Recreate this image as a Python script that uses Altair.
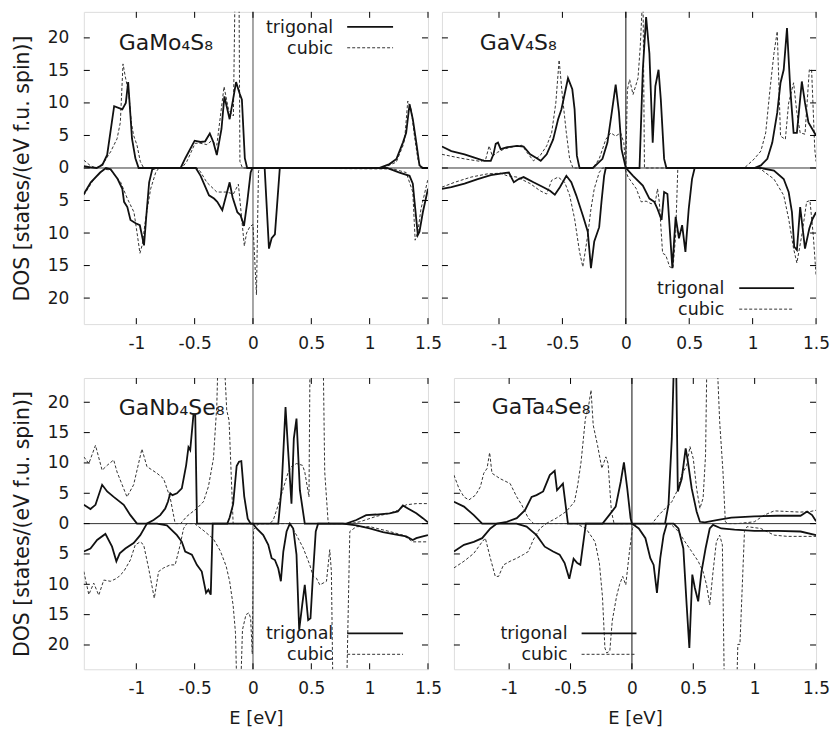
import altair as alt
import pandas as pd

FONT = "DejaVu Sans"
X_DOMAIN = [-1.45, 1.5]
Y_DOMAIN = [-24, 24]
X_TICKS = [-1, -0.5, 0, 0.5, 1, 1.5]
Y_TICKS = [-20, -15, -10, -5, 0, 5, 10, 15, 20]

# ---------------- GaMo4S8 ----------------
MO_TRI_UP = [(-1.45,0.3),(-1.39,0.1),(-1.34,0.0),(-1.29,0.5),(-1.25,2.0),(-1.21,7.0),(-1.19,9.5),(-1.12,9.0),(-1.09,10.0),(-1.07,13.2),(-1.05,8.0),(-1.037,4.5),(-1.008,1.5),(-0.98,0),(-0.62,0),(-0.58,1.5),(-0.50,4.2),(-0.45,4.0),(-0.41,4.1),(-0.37,5.3),(-0.34,4.0),(-0.31,2.0),(-0.27,6.0),(-0.245,11.0),(-0.20,7.5),(-0.145,13.2),(-0.115,11.5),(-0.095,10.5),(-0.07,1.5),(-0.05,0),(1.08,0),(1.17,0.6),(1.23,1.4),(1.285,3.9),(1.313,5.4),(1.342,9.8),(1.37,7.5),(1.40,3.9),(1.427,0.4),(1.456,0),(1.5,0)]
MO_TRI_DN = [(-1.45,-4.0),(-1.39,-2.2),(-1.31,-0.7),(-1.26,0),(-1.22,-0.2),(-1.16,-1.7),(-1.12,-3.2),(-1.105,-5.2),(-1.077,-6.0),(-1.05,-8.0),(-1.006,-8.5),(-0.97,-8.8),(-0.934,-11.9),(-0.914,-7.3),(-0.89,-2.2),(-0.863,-0.2),(-0.83,0),(-0.49,0),(-0.449,-1.2),(-0.377,-4.2),(-0.334,-4.7),(-0.306,-5.2),(-0.263,-6.5),(-0.2,-2.2),(-0.175,-4.5),(-0.134,-6.8),(-0.106,-7.3),(-0.077,-8.9),(-0.049,-5.2),(-0.02,-0.7),(-0.005,0),(0.10,0),(0.137,-12.4),(0.16,-10.8),(0.188,-10.2),(0.23,0),(1.15,0),(1.171,-0.15),(1.256,-0.7),(1.342,-1.2),(1.37,-2.4),(1.385,-5.2),(1.413,-10.3),(1.427,-9.8),(1.456,-6.8),(1.5,-3.2)]
MO_CUB_UP = [(-1.45,1.2),(-1.39,0.3),(-1.34,0),(-1.28,0.8),(-1.22,2.5),(-1.165,4.5),(-1.137,7.0),(-1.114,16.0),(-1.094,14.0),(-1.065,11.5),(-1.043,7.0),(-1.023,5.0),(-0.994,3.5),(-0.966,1.0),(-0.937,0),(-0.61,0),(-0.567,1.0),(-0.496,3.8),(-0.453,3.8),(-0.396,3.6),(-0.353,4.2),(-0.31,3.5),(-0.248,12.5),(-0.21,9.0),(-0.168,8.0),(-0.148,35),(-0.122,35),(-0.112,1.0),(-0.09,0),(1.114,0),(1.228,0.9),(1.285,3.4),(1.30,4.4),(1.327,10.3),(1.356,9.0),(1.384,4.9),(1.413,1.4),(1.44,0),(1.5,0)]
MO_CUB_DN = [(-1.45,-4.2),(-1.363,-1.7),(-1.277,-0.2),(-1.22,-0.3),(-1.134,-2.2),(-1.077,-4.7),(-1.02,-6.8),(-0.991,-10.3),(-0.969,-13.1),(-0.949,-11.8),(-0.92,-7.8),(-0.877,-3.2),(-0.834,-0.7),(-0.806,0),(-0.48,0),(-0.453,-0.5),(-0.396,-2.2),(-0.31,-3.7),(-0.225,-3.7),(-0.168,-4.0),(-0.125,-2.5),(-0.074,-12.0),(-0.055,-10.0),(-0.026,-9.0),(0.0,-8.7),(0.03,-19.5),(0.04,-8.0),(0.047,-0.5),(0.06,0),(1.2,-0.15),(1.313,-0.7),(1.37,-3.7),(1.39,-11.1),(1.413,-9.8),(1.44,-6.3),(1.47,-4.0),(1.5,-1.7)]

# ---------------- GaV4S8 ----------------
V_TRI_UP = [(-1.45,3.3),(-1.376,2.6),(-1.272,2.1),(-1.194,1.6),(-1.117,1.1),(-1.065,1.1),(-1.044,2.1),(-1.026,3.7),(-1.008,3.9),(-0.987,2.9),(-0.935,3.2),(-0.858,3.4),(-0.806,3.3),(-0.754,2.1),(-0.702,1.5),(-0.671,1.1),(-0.624,2.1),(-0.573,4.4),(-0.534,7.5),(-0.508,9.0),(-0.456,13.8),(-0.422,12.1),(-0.404,9.0),(-0.386,1.9),(-0.365,0),(-0.26,0),(-0.184,1.4),(-0.145,3.9),(-0.111,8.5),(-0.08,12.8),(-0.054,8.5),(-0.034,2.9),(0.0,0),(0.108,0),(0.134,15.1),(0.16,23.2),(0.186,17.6),(0.212,3.9),(0.233,12.6),(0.258,15.1),(0.276,10.5),(0.302,1.4),(0.32,0),(1.013,0),(1.065,0.4),(1.116,1.4),(1.155,3.9),(1.194,8.5),(1.22,13.1),(1.245,15.1),(1.271,21.5),(1.297,12.1),(1.323,5.4),(1.349,5.4),(1.388,13.3),(1.413,10.0),(1.44,7.0),(1.5,5.0)]
V_TRI_DN = [(-1.45,-3.2),(-1.376,-2.95),(-1.272,-2.4),(-1.168,-1.7),(-1.065,-1.1),(-0.961,-0.8),(-0.922,-0.7),(-0.883,-2.2),(-0.845,-1.7),(-0.806,-1.4),(-0.728,-2.2),(-0.65,-2.95),(-0.598,-3.5),(-0.56,-4.1),(-0.52,-2.95),(-0.469,-1.2),(-0.43,-2.2),(-0.391,-4.2),(-0.339,-7.3),(-0.30,-9.8),(-0.275,-15.4),(-0.249,-11.3),(-0.21,-9.1),(-0.192,-5.2),(-0.171,-1.2),(-0.158,0),(0.0,0),(0.057,-1.2),(0.134,-2.7),(0.186,-4.7),(0.225,-5.2),(0.25,-6.3),(0.282,-8.0),(0.302,-3.7),(0.328,-4.0),(0.367,-15.4),(0.393,-7.5),(0.419,-10.8),(0.444,-8.8),(0.47,-12.9),(0.496,-6.3),(0.522,-1.7),(0.543,0),(1.065,0),(1.168,-0.4),(1.245,-1.7),(1.284,-3.7),(1.31,-6.8),(1.328,-12.1),(1.349,-12.6),(1.375,-6.0),(1.413,-12.4),(1.447,-9.3),(1.473,-7.8),(1.5,-6.8)]
V_CUB_UP = [(-1.45,2.1),(-1.376,1.8),(-1.272,1.4),(-1.142,1.0),(-1.104,1.4),(-1.078,3.4),(-1.052,1.8),(-1.013,2.4),(-0.961,2.9),(-0.883,3.3),(-0.819,3.5),(-0.78,2.4),(-0.728,1.1),(-0.676,1.9),(-0.624,3.4),(-0.585,5.4),(-0.552,10.0),(-0.526,16.6),(-0.50,11.0),(-0.469,5.4),(-0.443,1.4),(-0.417,0),(-0.26,0),(-0.21,1.4),(-0.158,4.4),(-0.119,5.4),(-0.08,4.9),(-0.041,5.4),(-0.016,3.9),(0.0,0),(0.012,12.0),(0.03,13.6),(0.057,11.3),(0.096,13.8),(0.114,18.7),(0.127,24.0),(0.134,30),(0.147,0),(0.935,0),(1.013,1.4),(1.065,2.6),(1.103,5.4),(1.137,12.1),(1.168,17.6),(1.194,21.0),(1.22,4.9),(1.258,4.4),(1.284,10.0),(1.323,13.1),(1.349,8.5),(1.375,5.4),(1.413,5.2),(1.447,15.1),(1.465,15.1),(1.49,2.9),(1.5,1.0)]
V_CUB_DN = [(-1.45,-2.95),(-1.35,-2.2),(-1.22,-1.4),(-1.09,-0.9),(-0.987,-0.8),(-0.935,-1.2),(-0.858,-1.4),(-0.754,-2.4),(-0.676,-3.5),(-0.624,-4.0),(-0.585,-1.9),(-0.534,-1.4),(-0.482,-2.2),(-0.443,-4.2),(-0.404,-7.8),(-0.365,-12.9),(-0.339,-15.2),(-0.30,-10.3),(-0.275,-6.3),(-0.249,-3.2),(-0.21,-0.7),(-0.184,0),(-0.01,0),(0.018,-1.4),(0.083,-3.2),(0.121,-5.2),(0.16,-5.1),(0.20,-5.5),(0.233,-5.2),(0.25,-3.2),(0.264,-5.2),(0.29,-13.1),(0.315,-13.4),(0.346,-15.2),(0.372,-15.4),(0.393,-10.3),(0.41,0),(1.04,0),(1.065,-0.2),(1.168,-1.7),(1.245,-4.2),(1.284,-7.8),(1.323,-12.4),(1.349,-14.6),(1.388,-10.3),(1.426,-5.2),(1.452,-5.0),(1.478,-10.3),(1.5,-16.4)]

# ---------------- GaNb4Se8 ----------------
NB_TRI_UP = [(-1.45,3.1),(-1.393,2.4),(-1.35,3.1),(-1.293,6.4),(-1.25,5.3),(-1.194,4.4),(-1.108,3.1),(-1.051,1.4),(-0.994,0),(-0.909,0),(-0.852,0.6),(-0.795,1.4),(-0.752,2.5),(-0.729,3.6),(-0.709,5.0),(-0.69,4.7),(-0.652,5.0),(-0.61,5.8),(-0.573,9.6),(-0.553,12.6),(-0.538,12.1),(-0.51,18.0),(-0.495,18.0),(-0.48,0),(-0.22,0),(-0.2,1.0),(-0.17,3.2),(-0.14,9.5),(-0.12,10.2),(-0.1,10.3),(-0.075,4.5),(-0.045,0.8),(-0.02,0),(0.217,0),(0.245,5.8),(0.279,19.2),(0.302,11.8),(0.33,3.3),(0.35,14.0),(0.373,17.3),(0.402,5.5),(0.444,0),(0.80,0),(0.886,0.6),(0.97,1.4),(1.057,1.5),(1.171,1.7),(1.242,2.0),(1.285,3.0),(1.328,2.5),(1.40,1.7),(1.456,0.9),(1.5,0.2)]
NB_TRI_DN = [(-1.45,-4.6),(-1.393,-4.1),(-1.336,-2.7),(-1.265,-1.7),(-1.208,-3.8),(-1.171,-6.2),(-1.142,-4.9),(-1.094,-4.1),(-1.023,-3.2),(-0.966,-1.9),(-0.909,0),(-0.823,0),(-0.738,-0.3),(-0.652,-1.9),(-0.61,-3.0),(-0.581,-4.6),(-0.524,-5.1),(-0.481,-6.8),(-0.439,-7.9),(-0.402,-11.4),(-0.382,-10.9),(-0.362,-11.7),(-0.345,0),(0.0,0),(0.031,-0.8),(0.088,-1.9),(0.131,-3.5),(0.16,-5.7),(0.188,-6.0),(0.217,-7.4),(0.239,-9.5),(0.26,-4.6),(0.288,-1.3),(0.316,0),(0.345,-0.8),(0.373,-5.1),(0.396,-17.5),(0.422,-13.4),(0.444,-10.1),(0.473,-15.9),(0.493,-15.6),(0.516,-7.9),(0.538,-1.3),(0.558,0),(0.77,0),(0.886,-0.3),(1.0,-0.8),(1.114,-1.4),(1.228,-1.8),(1.313,-2.1),(1.37,-2.7),(1.40,-2.4),(1.456,-2.1),(1.5,-1.9)]
NB_CUB_UP = [(-1.45,11.0),(-1.407,9.9),(-1.35,12.9),(-1.293,8.8),(-1.25,9.6),(-1.194,10.5),(-1.165,8.5),(-1.08,4.4),(-1.023,6.4),(-0.952,12.3),(-0.909,9.4),(-0.823,8.3),(-0.766,7.4),(-0.709,4.2),(-0.667,0),(-0.62,0),(-0.567,1.2),(-0.481,2.5),(-0.425,3.6),(-0.382,6.1),(-0.339,10.7),(-0.31,19.5),(-0.296,30),(-0.254,30),(-0.225,18.7),(-0.205,17.0),(-0.17,0),(0.145,0),(0.174,0.6),(0.217,3.1),(0.26,5.8),(0.302,8.5),(0.33,9.4),(0.373,9.9),(0.425,9.6),(0.444,8.5),(0.48,4.4),(0.49,30),(0.60,30),(0.615,8.5),(0.644,0.3),(0.658,0),(0.83,0),(0.915,0.3),(1.057,1.2),(1.171,1.7),(1.242,2.2),(1.313,3.1),(1.40,3.3),(1.5,3.3)]
NB_CUB_DN = [(-1.45,-7.9),(-1.407,-11.7),(-1.365,-9.8),(-1.322,-11.8),(-1.279,-9.3),(-1.222,-9.5),(-1.165,-9.0),(-1.108,-7.9),(-1.051,-6.0),(-1.009,-3.5),(-0.966,-3.0),(-0.937,-3.5),(-0.895,-7.3),(-0.846,-12.3),(-0.809,-7.9),(-0.766,-7.3),(-0.709,-6.8),(-0.667,-6.8),(-0.624,-3.5),(-0.595,-0.8),(-0.567,0),(-0.50,0),(-0.42,-1.2),(-0.34,-2.5),(-0.28,-4.5),(-0.23,-7.0),(-0.20,-9.5),(-0.17,-13.5),(-0.15,-18.0),(-0.135,-30),(-0.11,-30),(-0.09,-17.5),(-0.06,-15.0),(-0.035,-14.7),(-0.02,-15.6),(-0.006,-21.5),(0.005,-1.0),(0.05,0),(0.316,0),(0.373,-1.9),(0.43,-4.0),(0.487,-6.8),(0.516,-8.7),(0.544,-9.0),(0.573,-10.1),(0.601,-9.8),(0.63,-9.5),(0.658,-4.3),(0.672,-7.9),(0.687,-30),(0.80,-30),(0.83,-1.3),(0.886,-0.5),(1.0,-0.5),(1.171,-1.3),(1.285,-1.9),(1.37,-3.0),(1.5,-3.0)]

# ---------------- GaTa4Se8 ----------------
TA_TRI_UP = [(-1.45,3.6),(-1.368,2.8),(-1.288,1.4),(-1.22,0),(-1.1,0),(-1.019,0.3),(-0.938,0.9),(-0.871,2.2),(-0.817,4.4),(-0.777,4.7),(-0.723,5.3),(-0.669,8.0),(-0.629,8.7),(-0.61,5.5),(-0.562,6.6),(-0.521,0),(-0.239,0),(-0.185,1.4),(-0.132,2.8),(-0.091,6.9),(-0.065,10.1),(-0.038,5.8),(-0.011,0.9),(0.0,0),(0.27,0),(0.298,3.1),(0.325,14.0),(0.347,30),(0.358,30),(0.374,5.3),(0.406,7.4),(0.438,12.4),(0.454,10.5),(0.487,5.8),(0.527,2.0),(0.554,0.3),(0.594,0.2),(0.702,0.6),(0.81,1.0),(0.997,1.2),(1.185,1.3),(1.374,1.3),(1.427,2.0),(1.468,1.4),(1.5,0.4)]
TA_TRI_DN = [(-1.45,-4.6),(-1.368,-3.5),(-1.288,-3.0),(-1.22,-2.4),(-1.153,-0.8),(-1.1,0),(-0.94,0),(-0.858,-0.5),(-0.777,-1.9),(-0.71,-3.8),(-0.642,-4.6),(-0.589,-5.1),(-0.548,-6.5),(-0.51,-9.1),(-0.475,-5.8),(-0.445,-6.5),(-0.42,-6.8),(-0.395,-3.0),(-0.375,0),(0.0,0),(0.056,-0.8),(0.11,-2.4),(0.15,-5.7),(0.177,-6.8),(0.204,-11.4),(0.231,-5.7),(0.258,-1.9),(0.285,0),(0.339,0),(0.379,-0.8),(0.419,-4.1),(0.446,-13.4),(0.468,-20.5),(0.492,-8.4),(0.513,-10.6),(0.54,-12.8),(0.567,-7.9),(0.60,-4.1),(0.634,-0.8),(0.661,-0.2),(0.728,-0.8),(0.836,-1.0),(0.997,-1.2),(1.185,-1.2),(1.374,-1.3),(1.5,-1.9)]
TA_CUB_UP = [(-1.45,8.0),(-1.409,5.8),(-1.368,4.4),(-1.328,3.9),(-1.274,4.7),(-1.234,6.1),(-1.207,8.3),(-1.18,9.1),(-1.159,11.7),(-1.14,8.3),(-1.073,7.4),(-0.992,6.6),(-0.938,4.4),(-0.898,3.1),(-0.844,0.9),(-0.80,0),(-0.70,0),(-0.616,0.9),(-0.535,2.0),(-0.468,3.6),(-0.441,6.4),(-0.414,10.2),(-0.379,17.3),(-0.352,19.5),(-0.333,22.0),(-0.315,16.2),(-0.28,12.9),(-0.245,9.1),(-0.212,11.0),(-0.194,9.9),(-0.167,2.0),(-0.145,0),(0.164,0),(0.218,1.4),(0.272,2.5),(0.325,3.6),(0.366,5.3),(0.406,8.0),(0.446,9.6),(0.473,12.7),(0.50,10.7),(0.527,5.8),(0.554,2.5),(0.58,4.2),(0.60,11.3),(0.613,30),(0.688,30),(0.715,16.8),(0.742,8.5),(0.761,0.3),(0.782,0),(0.86,0),(0.997,0.3),(1.078,1.4),(1.159,2.1),(1.266,2.0),(1.374,1.9),(1.454,2.0),(1.5,2.2)]
TA_CUB_DN = [(-1.45,-7.3),(-1.368,-6.2),(-1.288,-4.9),(-1.22,-3.0),(-1.194,-2.4),(-1.153,-5.7),(-1.113,-8.7),(-1.086,-8.7),(-1.046,-6.8),(-0.992,-6.2),(-0.938,-5.7),(-0.884,-5.1),(-0.844,-4.6),(-0.804,-2.7),(-0.75,-0.8),(-0.696,0),(-0.454,0),(-0.374,-0.8),(-0.30,-3.0),(-0.265,-6.5),(-0.24,-12.0),(-0.22,-20.5),(-0.205,-21.3),(-0.18,-21.0),(-0.16,-16.0),(-0.125,-12.0),(-0.10,-10.0),(-0.075,-8.7),(-0.05,-10.1),(-0.02,-4.6),(0.005,-0.8),(0.03,0),(0.312,0),(0.379,-1.3),(0.433,-3.0),(0.487,-4.6),(0.54,-6.2),(0.58,-7.9),(0.608,-10.1),(0.634,-13.4),(0.661,-7.9),(0.688,-3.0),(0.715,-1.9),(0.737,-3.5),(0.755,-30),(0.85,-30),(0.863,-19.9),(0.88,-19.9),(0.917,-1.3),(0.938,-0.5),(1.05,-0.8),(1.159,-1.9),(1.266,-2.1),(1.427,-2.1),(1.5,-2.1)]

NAMES = ["GaMo\u2084S\u2088", "GaV\u2084S\u2088", "GaNb\u2084Se\u2088", "GaTa\u2084Se\u2088"]
LEGEND_LABELS = ["trigonal", "cubic"]
Y_TITLE = "DOS [states/(eV f.u. spin)]"
X_TITLE = "E [eV]"


def frame(up, dn):
    rows = []
    for k, (e, d) in enumerate(up):
        rows.append({"E": e, "D": d, "spin": "up", "i": k})
    for k, (e, d) in enumerate(dn):
        rows.append({"E": e, "D": d, "spin": "down", "i": k})
    return pd.DataFrame(rows)


def panel(name, tri_up, tri_dn, cub_up, cub_dn, w, h, left, bottom, leg, name_pos, zero_col):
    x_axis = alt.Axis(values=X_TICKS, ticks=False, domain=False, grid=False,
                      labelExpr="'' + datum.value", labelFont=FONT, labelFontSize=17,
                      labelColor="#1a1a1a", labelPadding=11, labelFlush=False,
                      labelOverlap=False,
                      title=X_TITLE if bottom else None, titleFont=FONT,
                      titleFontSize=18, titleFontWeight="normal", titleColor="#1a1a1a",
                      titlePadding=13)
    X = alt.X("E:Q", scale=alt.Scale(domain=X_DOMAIN, nice=False, zero=False), axis=x_axis)
    if left:
        y_axis = alt.Axis(values=Y_TICKS, ticks=False, domain=False, grid=False,
                          labelExpr="'' + abs(datum.value)", labelFont=FONT,
                          labelFontSize=17, labelColor="#1a1a1a", labelPadding=15,
                          labelOverlap=False,
                          title=Y_TITLE, titleFont=FONT, titleFontSize=20.5,
                          titleFontWeight="normal", titleColor="#1a1a1a", titlePadding=15)
    else:
        y_axis = None
    Y = alt.Y("D:Q", scale=alt.Scale(domain=Y_DOMAIN, nice=False, zero=False), axis=y_axis)

    zero_h = alt.Chart(pd.DataFrame({"D": [0]})).mark_rule(color="#333", strokeWidth=1).encode(
        y=Y, x=alt.value(0), x2=alt.value(w))
    zero_v = alt.Chart(pd.DataFrame({"E": [0]})).mark_rule(color=zero_col, strokeWidth=1.3).encode(
        x=X, y=alt.value(0), y2=alt.value(h))

    cub = alt.Chart(frame(cub_up, cub_dn)).mark_line(
        clip=True, color="#333", strokeWidth=1, strokeDash=[3, 2]).encode(
        x=X, y=Y, detail="spin:N", order="i:Q")
    tri = alt.Chart(frame(tri_up, tri_dn)).mark_line(
        clip=True, color="#111", strokeWidth=1.8).encode(
        x=X, y=Y, detail="spin:N", order="i:Q")

    xt = pd.DataFrame({"E": X_TICKS})
    yt = pd.DataFrame({"D": Y_TICKS})
    tick = dict(color="black", strokeWidth=1)
    xt_b = alt.Chart(xt).mark_rule(**tick).encode(x=X, y=alt.value(h), y2=alt.value(h - 6))
    xt_t = alt.Chart(xt).mark_rule(**tick).encode(x=X, y=alt.value(0), y2=alt.value(6))
    yt_l = alt.Chart(yt).mark_rule(**tick).encode(y=Y, x=alt.value(0), x2=alt.value(6))
    yt_r = alt.Chart(yt).mark_rule(**tick).encode(y=Y, x=alt.value(w - 6), x2=alt.value(w))

    tx, ty1, ty2, lx1, lx2 = leg
    one = pd.DataFrame({"k": [0]})
    leg_layers = []
    for lab, yy, dash, sw in [(LEGEND_LABELS[0], ty1, None, 1.8), (LEGEND_LABELS[1], ty2, [3, 2], 1)]:
        leg_layers.append(alt.Chart(pd.DataFrame({"t": [lab]})).mark_text(
            align="right", baseline="middle", font=FONT, fontSize=17.5, color="#1a1a1a").encode(
            text="t:N", x=alt.value(tx), y=alt.value(yy + 1)))
        kw = dict(color="#111" if dash is None else "#333", strokeWidth=sw)
        if dash is not None:
            kw["strokeDash"] = dash
        leg_layers.append(alt.Chart(one).mark_rule(**kw).encode(
            x=alt.value(lx1), x2=alt.value(lx2), y=alt.value(yy)))

    nx, ny = name_pos
    label = alt.Chart(pd.DataFrame({"t": [name]})).mark_text(
        align="left", baseline="alphabetic", font=FONT, fontSize=22, color="#1a1a1a").encode(
        text="t:N", x=alt.value(nx), y=alt.value(ny))

    return alt.layer(zero_h, zero_v, cub, tri, xt_b, xt_t, yt_l, yt_r, *leg_layers, label).properties(
        width=w, height=h)


p1 = panel(NAMES[0], MO_TRI_UP, MO_TRI_DN, MO_CUB_UP, MO_CUB_DN, 345, 313, True, False,
           (250, 15, 36, 264, 310), (35, 38), "#777")
p2 = panel(NAMES[1], V_TRI_UP, V_TRI_DN, V_CUB_UP, V_CUB_DN, 375, 313, False, False,
           (283, 277, 298, 298, 353), (38, 38), "#444")
p3 = panel(NAMES[2], NB_TRI_UP, NB_TRI_DN, NB_CUB_UP, NB_CUB_DN, 345, 292, True, True,
           (250, 256, 277, 264, 320), (35, 37), "#777")
p4 = panel(NAMES[3], TA_TRI_UP, TA_TRI_DN, TA_CUB_UP, TA_CUB_DN, 363, 292, False, True,
           (114, 256, 277, 128, 183), (38, 36), "#444")

row1 = alt.hconcat(p1, p2, spacing=14, bounds="flush")
row2 = alt.hconcat(p3, p4, spacing=26, bounds="flush")
chart = alt.vconcat(row1, row2, spacing=24).properties(
    padding={"left": 3, "top": 1, "right": 0, "bottom": 0}
).configure_view(stroke="black", strokeWidth=1.2).configure(background="white")

chart.save("out.html", embed_options={"renderer": "svg", "actions": False})
